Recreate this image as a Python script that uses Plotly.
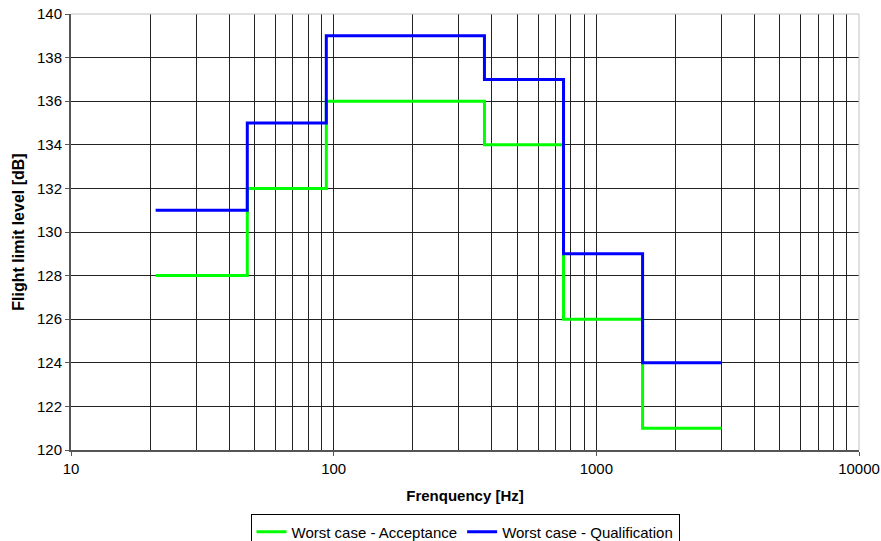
import plotly.graph_objects as go

freq = [21, 46.9, 93.75, 375, 750, 1500, 3000]
acceptance = [128, 132, 136, 134, 126, 121, 121]
qualification = [131, 135, 139, 137, 129, 124, 124]

x_major = [10, 100, 1000, 10000]
x_minor = [m * d for d in [10, 100, 1000] for m in range(2, 10)]

fig = go.Figure()
fig.add_trace(go.Scatter(x=freq, y=acceptance, mode="lines", line_shape="hv",
                         line=dict(color="#00FF00", width=3),
                         name="Worst case - Acceptance"))
fig.add_trace(go.Scatter(x=freq, y=qualification, mode="lines", line_shape="hv",
                         line=dict(color="#0000FF", width=3),
                         name="Worst case - Qualification"))

fig.update_layout(
    width=881, height=541,
    margin=dict(l=71, r=22, t=14, b=91),
    plot_bgcolor="white", paper_bgcolor="white",
    font=dict(family="Liberation Sans, Arial", size=15, color="black"),
    showlegend=True,
    legend=dict(orientation="h", x=0.5, xanchor="center",
                yref="container", y=0.049, yanchor="top",
                bordercolor="black", borderwidth=1, font=dict(size=15),
                itemwidth=30, tracegroupgap=0),
    xaxis=dict(type="log", range=[1, 4], tickmode="array", tickvals=x_major,
               ticktext=[str(v) for v in x_major], automargin=False,
               ticklabeloverflow="allow",
               showgrid=True, gridcolor="#222222", gridwidth=1,
               minor=dict(tickmode="array", tickvals=x_minor, showgrid=True,
                          gridcolor="#222222", gridwidth=1, ticks=""),
               ticks="outside", ticklen=4, tickcolor="#555555",
               showline=True, linecolor="#555555", linewidth=2, mirror=False,
               zeroline=False,
               title=dict(text="<b>Frenquency [Hz]</b>", font=dict(size=15), standoff=14)),
    yaxis=dict(range=[120, 140], dtick=2, tick0=120, automargin=False,
               ticklabeloverflow="allow",
               showgrid=True, gridcolor="#222222", gridwidth=1,
               ticks="outside", ticklen=4, tickcolor="#555555",
               showline=True, linecolor="#555555", linewidth=2,
               zeroline=False,
               title=dict(text="<b>Flight limit level [dB]</b>", font=dict(size=16), standoff=8)),
    shapes=[dict(type="line", xref="paper", yref="paper", x0=0, x1=1, y0=1, y1=1,
                 line=dict(color="#c0c0c0", width=1)),
            dict(type="line", xref="paper", yref="paper", x0=1, x1=1, y0=0, y1=1,
                 line=dict(color="#c0c0c0", width=1))],
)

# remove the browser's default 8px body margin so the figure fills the window exactly
fig.write_html("out.html", config={"displayModeBar": False},
               post_script="document.body.style.margin='0';document.body.style.overflow='hidden';")
